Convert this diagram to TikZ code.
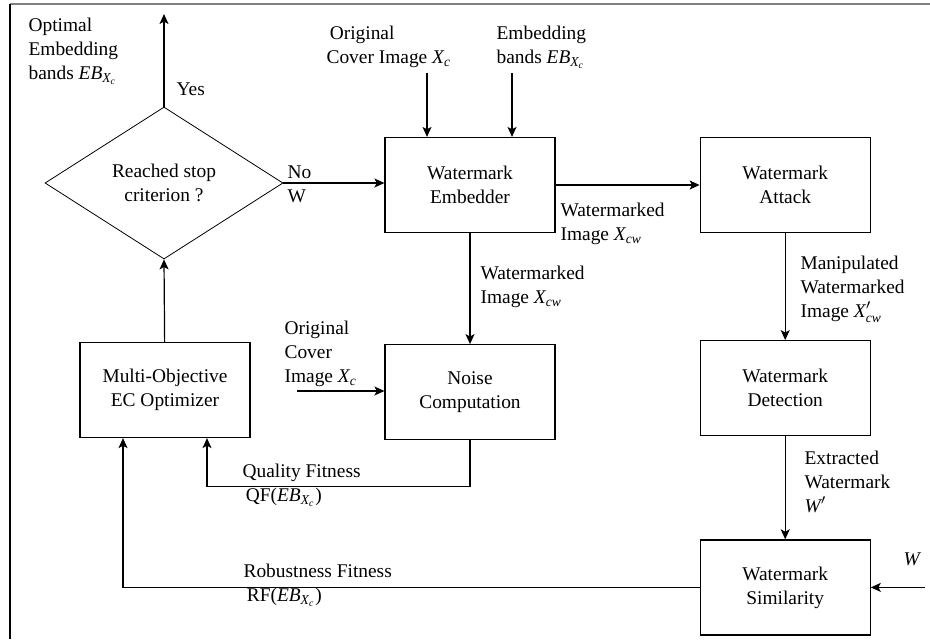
\documentclass[tikz,border=0pt]{standalone}
\usepackage{fontspec}
\setmainfont{Liberation Serif}
\DeclareSymbolFont{letters}{TU}{\rmdefault}{m}{it}
\usetikzlibrary{shapes.geometric,positioning,arrows.meta}
\begin{document}
\begin{tikzpicture}[x=0.5pt, y=-0.5pt, >={Stealth[length=5pt,width=4.5pt,inset=1.2pt]}, semithick,
             font=\fontsize{9.7}{12}\selectfont,
             box/.style = {draw, rectangle, minimum width=85pt, minimum height=47.5pt, align=center, inner sep=0pt},
             lab/.style = {align=left, inner sep=0pt, anchor=north west}]
            \useasboundingbox (0,0) rectangle (930,639);
            % Cornice
            \draw[gray, line width=1pt] (10,4) -- (930,4);
            \draw[line width=0.7pt] (10,4) -- (10,639);

            % Blocchi
            \node[diamond, draw, thin, minimum width=119pt, minimum height=76pt, inner sep=0pt, align=center] (stop) at (164,183) {Reached stop\\criterion ?};
            \node[box] (emb) at (470,185) {Watermark\\Embedder};
            \node[box] (att) [right=72pt of emb] {Watermark\\Attack};
            \node[box] (det) [below=53.5pt of att] {Watermark\\Detection};
            \node[box] (sim) [below=51.5pt of det] {Watermark\\Similarity};
            \node[box] (noise) [below=55.5pt of emb] {Noise\\Computation};
            \node[box] (opt) at (165,390) {Multi-Objective\\EC Optimizer};

            % Etichette
            \node[lab] (optimal) at (28,17) {Optimal\\Embedding\\bands $EB_{X_c}$};
            \node[lab] (yes) at (176,82) {Yes};
            \node[lab] (nowm) at (287,165) {No\\W};
            \node[lab] (cover1) at (326,25) {\,Original\\Cover Image $X_c$};
            \node[lab] (bands) at (496,25) {Embedding\\bands $EB_{X_c}$};
            \node[lab] (wm1) at (560,202) {Watermarked\\Image $X_{cw}$};
            \node[lab] (wm2) at (480,265) {Watermarked\\Image $X_{cw}$};
            \node[lab] (manip) at (800,255) {Manipulated\\Watermarked\\Image $X'_{cw}$};
            \node[lab] (cover2) at (284,320) {Original\\Cover\\Image $X_c$};
            \node[lab] (quality) at (242,463) {Quality Fitness\\\,QF($EB_{X_c}$)};
            \node[lab] (robust) at (243,563) {Robustness Fitness\\\,RF($EB_{X_c}$)};
            \node[lab] (extract) at (804,450) {Extracted\\Watermark\\$W'$};
            \node[lab] (wlab) at (903,552) {$W$};

            % Ingressi e uscite
            \coordinate (out) at (164,14);
            \coordinate (in1) at (427,73);
            \coordinate (in2) at (512,73);
            \coordinate (cin) at (297,391);
            \coordinate (win) at (925,584);

            % Archi
            \draw[->] (stop.north) -- (out);
            \draw[->] (stop.east) -- (stop.east -| emb.west);
            \draw[->] (in1) -- (in1 |- emb.north);
            \draw[->] (in2) -- (in2 |- emb.north);
            \draw[->] (emb) -- (att);
            \draw[->] (emb) -- (noise);
            \draw[->] (att) -- (det);
            \draw[->] (det) -- (sim);
            \draw[->] (opt) -- (stop.south);
            \draw[->] (cin) -- (cin -| noise.west);
            \draw[->] (win |- sim.east) -- (sim.east);
            \draw[->] (noise.south) -- ++(0,46) -| ([xshift=21pt]opt.south);
            \draw[->] (sim.west) -| ([xshift=-21pt]opt.south);
        \end{tikzpicture}
\end{document}
